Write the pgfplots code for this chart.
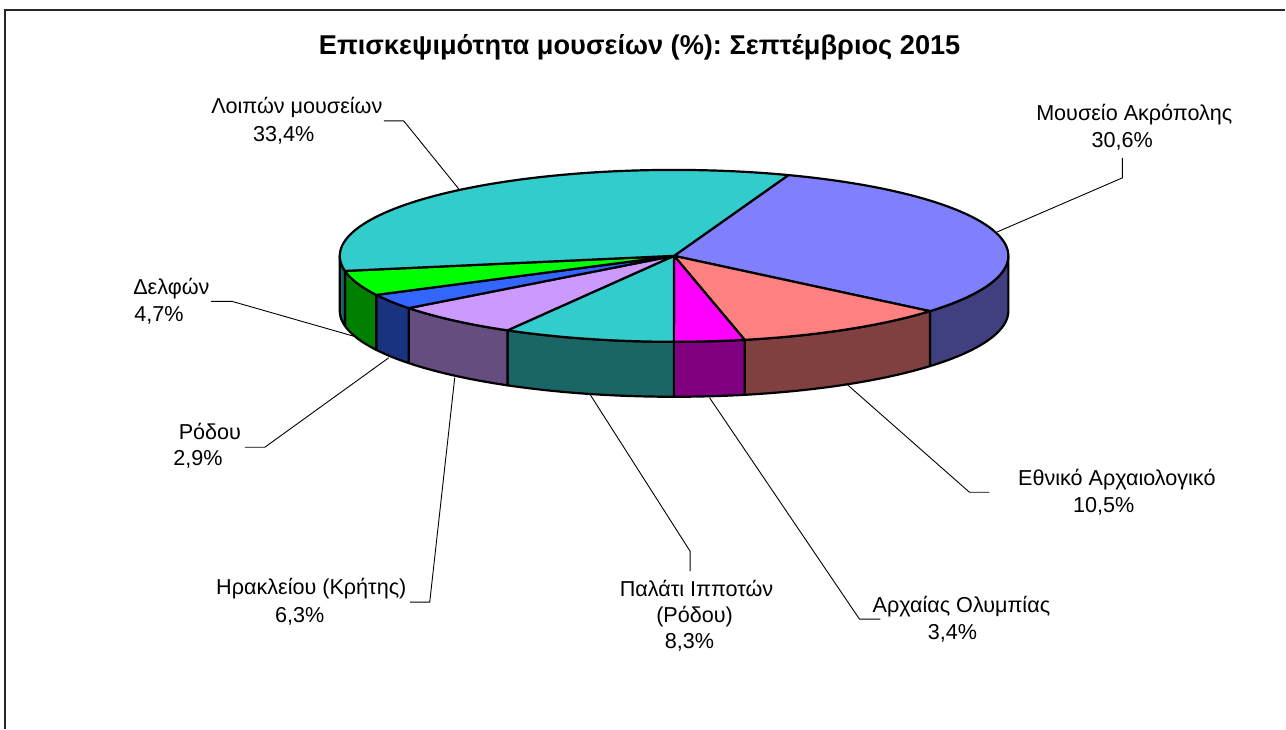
\documentclass[border=0pt]{standalone}
\usepackage{fontspec}
\setmainfont{Liberation Sans}
\usepackage{pgfplots}
\pgfplotsset{compat=1.18}
\frenchspacing
\definecolor{akroT}{HTML}{8080FF}\definecolor{akroS}{HTML}{404080}
\definecolor{ethnT}{HTML}{FF8080}\definecolor{ethnS}{HTML}{804040}
\definecolor{olymT}{HTML}{FF00FF}\definecolor{olymS}{HTML}{800080}
\definecolor{palaT}{HTML}{33CCCC}\definecolor{palaS}{HTML}{1A6666}
\definecolor{irakT}{HTML}{CC99FF}\definecolor{irakS}{HTML}{664D80}
\definecolor{rodoT}{HTML}{3366FF}\definecolor{rodoS}{HTML}{1A3380}
\definecolor{delfT}{HTML}{00FF00}\definecolor{delfS}{HTML}{008000}
\definecolor{loipT}{HTML}{33CCCC}\definecolor{loipS}{HTML}{1A6666}
% top face of a wedge: angles #1 < #2
\newcommand\pietop[3]{%
\addplot[fill=#3, draw=black, line width=1.1pt, line join=round, domain=#1:#2, samples=80, variable=\t]
 ({\cx+\rx*cos(\t)},{\cy-\ry*sin(\t)}) -- (axis cs:\cx,\cy) -- cycle;}
% front side of a wedge between angles #1 and #2
\newcommand\pieside[3]{%
\addplot[fill=#3, draw=black, line width=1.1pt, line join=round, domain=0:2, samples=201, variable=\u]
 ({\cx+\rx*cos(ifthenelse(\u<=1.005, (#1)+((#2)-(#1))*min(\u,1), (#2)-((#2)-(#1))*max(\u-1.01,0)/0.99))},
  {\cy-\ry*sin(ifthenelse(\u<=1.005, (#1)+((#2)-(#1))*min(\u,1), (#2)-((#2)-(#1))*max(\u-1.01,0)/0.99))+ifthenelse(\u<=1.005,0,\dep)})
 -- cycle;}
\begin{document}
\begin{tikzpicture}
\def\cx{674.5}\def\cy{256}\def\rx{334.5}\def\ry{86}\def\dep{55}
% percentages (clockwise from Μουσείο Ακρόπολης)
\def\T{100.1}
\pgfmathsetmacro\aA{70}
\pgfmathsetmacro\aB{\aA-360*30.6/\T}
\pgfmathsetmacro\aC{\aB-360*10.5/\T}
\pgfmathsetmacro\aD{\aC-360*3.4/\T}
\pgfmathsetmacro\aE{\aD-360*8.3/\T}
\pgfmathsetmacro\aF{\aE-360*6.3/\T}
\pgfmathsetmacro\aG{\aF-360*2.9/\T}
\pgfmathsetmacro\aH{\aG-360*4.7/\T}
\pgfmathsetmacro\aI{\aH-360*33.4/\T}
\begin{axis}[scale only axis, width=643pt, height=364.5pt,
  xmin=0, xmax=1286, ymin=0, ymax=729, y dir=reverse, hide axis, clip=false]
\path (axis cs:0,0) rectangle (axis cs:1286,729);
\draw[line width=0.8pt, black!85] (axis cs:5,729) -- (axis cs:5,10) -- (axis cs:1286,10);
% sides
\pieside{\aB}{0}{akroS}
\pieside{\aC}{\aB}{ethnS}
\pieside{\aD}{\aC}{olymS}
\pieside{\aE}{\aD}{palaS}
\pieside{\aF}{\aE}{irakS}
\pieside{\aG}{\aF}{rodoS}
\pieside{\aH}{\aG}{delfS}
\pieside{-180}{\aH}{loipS}
% tops
\pietop{\aB}{\aA}{akroT}
\pietop{\aC}{\aB}{ethnT}
\pietop{\aD}{\aC}{olymT}
\pietop{\aE}{\aD}{palaT}
\pietop{\aF}{\aE}{irakT}
\pietop{\aG}{\aF}{rodoT}
\pietop{\aH}{\aG}{delfT}
\pietop{\aI}{\aH}{loipT}
% leader lines
\begin{scope}[line width=0.45pt]
\draw (axis cs:384,121) -- (axis cs:404,121) -- (axis cs:459,189);
\draw (axis cs:1123,158) -- (axis cs:1123,178) -- (axis cs:998,232);
\draw (axis cs:211,301.5) -- (axis cs:232,301.5) -- (axis cs:356,337);
\draw (axis cs:245,447.5) -- (axis cs:265,447.5) -- (axis cs:389,358);
\draw (axis cs:848,385) -- (axis cs:970,492.5) -- (axis cs:990,492.5);
\draw (axis cs:590,394) -- (axis cs:690.5,551.5) -- (axis cs:690.5,571.5);
\draw (axis cs:710,398) -- (axis cs:860,619.5) -- (axis cs:881,619.5);
\draw (axis cs:455,378) -- (axis cs:430,602.5) -- (axis cs:410.5,602.5);
\end{scope}
% title
\node[anchor=base, font=\bfseries\fontsize{13.6}{16}\selectfont] at (axis cs:640,55)
  {Επισκεψιμότητα μουσείων (\%): Σεπτέμβριος 2015};
% labels
\begin{scope}[every node/.style={anchor=base, inner sep=0pt, font=\fontsize{10.8}{13}\selectfont}]
\node at (axis cs:297,114) {Λοιπών μουσείων};
\node at (axis cs:284,142) {33,4\%};
\node at (axis cs:1135,121) {Μουσείο Ακρόπολης};
\node at (axis cs:1123,148) {30,6\%};
\node[anchor=base west] at (axis cs:133,295) {Δελφών};
\node[anchor=base west] at (axis cs:134,322) {4,7\%};
\node at (axis cs:210,440) {Ρόδου};
\node at (axis cs:198,466) {2,9\%};
\node at (axis cs:1117.5,486) {Εθνικό Αρχαιολογικό};
\node at (axis cs:1104.5,513) {10,5\%};
\node at (axis cs:962,613) {Αρχαίας Ολυμπίας};
\node at (axis cs:953,640) {3,4\%};
\node at (axis cs:697,597) {Παλάτι Ιπποτών};
\node at (axis cs:695,623) {(Ρόδου)};
\node at (axis cs:690,649) {8,3\%};
\node at (axis cs:311.5,595) {Ηρακλείου (Κρήτης)};
\node at (axis cs:300,623) {6,3\%};
\end{scope}
\end{axis}
\end{tikzpicture}
\end{document}
